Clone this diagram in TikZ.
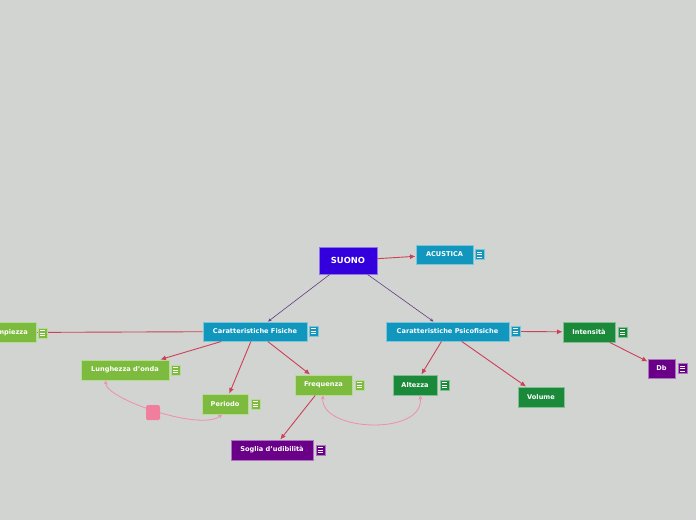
\documentclass[tikz,border=0pt]{standalone}
\usepackage{fontspec}
\setsansfont{DejaVu Sans}
\usepackage{tikz}
\usetikzlibrary{positioning, arrows.meta, calc, shadows}
\definecolor{bgcol}{RGB}{210,212,209}
\definecolor{suonocol}{RGB}{51,0,221}
\definecolor{tealcol}{RGB}{17,150,190}
\definecolor{lightgreen}{RGB}{125,187,63}
\definecolor{darkgreen}{RGB}{26,138,58}
\definecolor{plum}{RGB}{106,0,136}
\definecolor{linkred}{RGB}{204,64,88}
\definecolor{linkpurple}{RGB}{100,60,130}
\definecolor{pinkline}{RGB}{240,140,176}
\begin{document}
\begin{tikzpicture}[x=1pt, y=-1pt,
    topic/.style={fill=#1, draw=white!45!#1, line width=1pt, text=white, inner sep=0pt,
        minimum height=19pt, font=\sffamily\bfseries\fontsize{6.6}{7.5}\selectfont,
        drop shadow={shadow xshift=0.8pt, shadow yshift=-0.8pt, opacity=0.2}},
    menuicon/.style={fill=#1, draw=white!45!#1, line width=0.5pt, inner sep=0pt,
        minimum width=9pt, minimum height=10pt,
        path picture={\foreach \k in {-2.3,0,2.3}
            \draw[white, line width=0.6pt] ([xshift=2.3pt, yshift=\k pt]path picture bounding box.west)
                -- ([xshift=-2.3pt, yshift=\k pt]path picture bounding box.east);}},
    link/.style={draw=linkred, line width=0.9pt, -{Latex[length=5.5pt, width=5pt]}},
    sublink/.style={draw=linkpurple, line width=0.6pt, -{Stealth[length=3.5pt, width=3pt]}},
    relation/.style={draw=pinkline, line width=0.8pt, {Stealth[length=4pt, width=4pt, open]}-{Stealth[length=4pt, width=4pt, open]}}]
    \fill[bgcol] (0,0) rectangle (696,520);
    \clip (0,0) rectangle (696,520);
    \useasboundingbox (0,0) rectangle (696,520);

    \node[topic=suonocol, minimum width=58pt, minimum height=27pt, font=\sffamily\bfseries\fontsize{8.4}{9}\selectfont] (suono) at (348,260.5) {SUONO};
    \node[topic=tealcol, minimum width=57pt] (acustica) at (444.5,254.5) {ACUSTICA};
    \node[topic=tealcol, minimum width=104pt] (fisiche) at (255,331.5) {Caratteristiche Fisiche};
    \node[topic=tealcol, minimum width=123pt] (psico) at (447.5,331.5) {Caratteristiche Psicofisiche};
    \node[topic=lightgreen, minimum width=52pt, minimum height=20pt] (ampiezza) at (10,332.5) {Ampiezza};
    \node[topic=lightgreen, minimum width=88pt, minimum height=20pt] (lunghezza) at (125,370) {Lunghezza d'onda};
    \node[topic=lightgreen, minimum width=46pt, minimum height=20pt] (periodo) at (225,404) {Periodo};
    \node[topic=lightgreen, minimum width=57pt, minimum height=20pt] (frequenza) at (323.5,385) {Frequenza};
    \node[topic=plum, minimum width=82pt, minimum height=20pt] (soglia) at (272,450) {Soglia d'udibilità};
    \node[topic=darkgreen, minimum width=44pt, minimum height=20pt] (altezza) at (415,385) {Altezza};
    \node[topic=darkgreen, minimum width=46pt, minimum height=20pt] (volume) at (541,397) {Volume};
    \node[topic=darkgreen, minimum width=52pt, minimum height=20pt] (intensita) at (589,332) {Intensità};
    \node[topic=plum, minimum width=27pt] (db) at (661.5,368.5) {Db};

    \coordinate (psicoicon) at (520,331.5);
    \draw[link] (suono) -- (acustica);
    \draw[sublink] (suono) -- (fisiche);
    \draw[sublink] (suono) -- (psico);
    \draw[link] (fisiche) -- (ampiezza);
    \draw[link] (fisiche) -- (lunghezza);
    \draw[link] (fisiche) -- (periodo);
    \draw[link] (fisiche) -- (frequenza);
    \draw[link] (frequenza) -- (soglia);
    \draw[link] (psico) -- (altezza);
    \draw[link] (psico) -- (volume);
    \draw[link] (psicoicon) -- (intensita);
    \draw[link] (intensita) -- (db);

    \draw[relation] ([xshift=-19pt]lunghezza.south) .. controls (104,398) and (200,432) .. ([xshift=-3pt]periodo.south);
    \node[fill=pinkline!90!red, rounded corners=1.5pt, minimum width=14pt, minimum height=15pt, inner sep=0pt] (pinkmark) at (153,412.5) {};
    \draw[relation] ([xshift=-0.5pt]frequenza.south) .. controls (320,432) and (425,436) .. ([xshift=5pt]altezza.south);

    \node[menuicon=tealcol] (acusticamenu) at (479.5,254.5) {};
    \node[menuicon=tealcol] (fisichemenu) at (313.5,331) {};
    \node[menuicon=tealcol] (psicomenu) at (515.5,331) {};
    \node[menuicon=lightgreen] (ampiezzamenu) at (42.5,333) {};
    \node[menuicon=lightgreen] (lunghezzamenu) at (175.5,370) {};
    \node[menuicon=lightgreen] (periodomenu) at (255.5,404) {};
    \node[menuicon=lightgreen] (frequenzamenu) at (359.5,385) {};
    \node[menuicon=plum] (sogliamenu) at (320.5,450) {};
    \node[menuicon=darkgreen] (altezzamenu) at (444.5,385) {};
    \node[menuicon=darkgreen] (intensitamenu) at (622.5,332) {};
    \node[menuicon=plum] (dbmenu) at (682.5,368.5) {};
\end{tikzpicture}
\end{document}
